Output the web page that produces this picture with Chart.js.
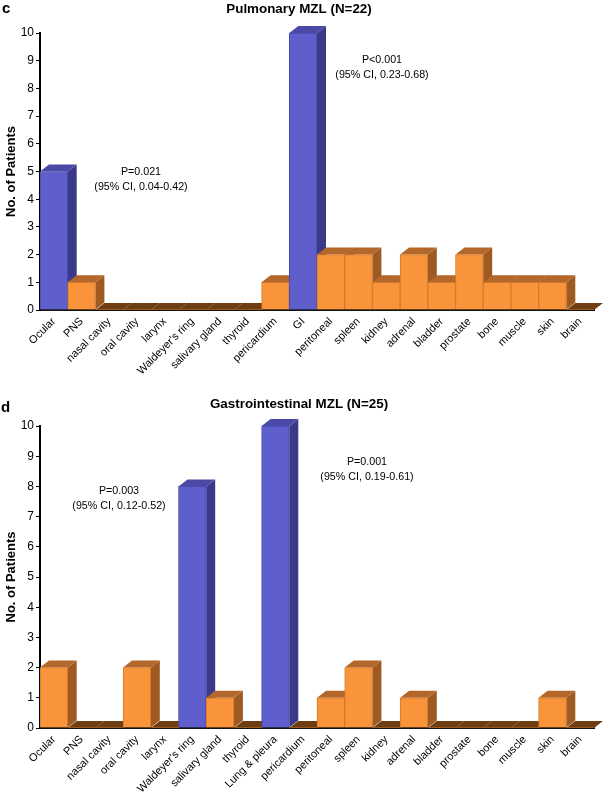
<!DOCTYPE html>
<html><head><meta charset="utf-8">
<style>
html,body{margin:0;padding:0;background:#fff;width:605px;height:796px;overflow:hidden}
canvas{position:absolute;left:0}
.t{position:absolute;font:10.7px "Liberation Sans",Arial,sans-serif;color:#000;text-align:center;line-height:15px;white-space:nowrap;transform:translateX(-50%)}
.p{position:absolute;font:bold 15px "Liberation Sans",Arial,sans-serif;color:#000;line-height:15px}
</style></head><body>
<canvas id="c1" width="605" height="395" style="top:0"></canvas>
<canvas id="c2" width="605" height="401" style="top:395px"></canvas>
<div class="p" style="left:2px;top:0">c</div>
<div class="p" style="left:1px;top:399px">d</div>
<div class="t" style="left:141px;top:164px">P=0.021<br>(95% CI, 0.04-0.42)</div>
<div class="t" style="left:382px;top:52px">P&lt;0.001<br>(95% CI, 0.23-0.68)</div>
<div class="t" style="left:119px;top:483px">P=0.003<br>(95% CI, 0.12-0.52)</div>
<div class="t" style="left:367px;top:454px">P=0.001<br>(95% CI, 0.19-0.61)</div>
<script src="https://cdn.jsdelivr.net/npm/chart.js@4"></script>
<script>
const categoriesC = ["Ocular","PNS","nasal cavity","oral cavity","larynx","Waldeyer's ring","salivary gland","thyroid","pericardium","GI","peritoneal","spleen","kidney","adrenal","bladder","prostate","bone","muscle","skin","brain"];
const valuesC = [5,1,0,0,0,0,0,0,1,10,2,2,1,2,1,2,1,1,1,0];
const highlightC = ["Ocular","GI"];
const categoriesD = ["Ocular","PNS","nasal cavity","oral cavity","larynx","Waldeyer's ring","salivary gland","thyroid","Lung & pleura","pericardium","peritoneal","spleen","kidney","adrenal","bladder","prostate","bone","muscle","skin","brain"];
const valuesD = [2,0,0,2,0,8,1,0,10,0,1,2,0,1,0,0,0,0,1,0];
const highlightD = ["Waldeyer's ring","Lung & pleura"];
const titleC = "Pulmonary MZL (N=22)";
const titleD = "Gastrointestinal MZL (N=25)";

const DX = 9, DY = 7;
const FONT = '"Liberation Sans",Arial,sans-serif';
const PAL = {
  o:{front:'#FA943A',edge:'#D27A2C',top:'#B4672A',side:'#9E5A20'},
  b:{front:'#5E5ECC',edge:'#4A4AB0',top:'#4A4AA6',side:'#3A3A88'}
};
const depth = {
  id:'depth',
  beforeDatasetsDraw(chart){
    const ctx = chart.ctx, meta = chart.getDatasetMeta(0), vals = chart.data.datasets[0].data;
    const hi = chart.data.datasets[0].hi;
    meta.data.forEach((el,i)=>{
      const p = hi.includes(chart.data.labels[i]) ? PAL.b : PAL.o;
      const l = el.x-el.width/2, r = el.x+el.width/2, t = el.y, b = el.base;
      if(vals[i]===0){
        ctx.fillStyle='#6E3D12';
        poly(ctx,[[l,b],[l+DX,b-DY],[r+DX,b-DY],[r,b]]);
        return;
      }
      ctx.fillStyle=p.side;
      poly(ctx,[[r,t],[r+DX,t-DY],[r+DX,b-DY],[r,b]]);
      ctx.fillStyle=p.top;
      poly(ctx,[[l,t],[l+DX,t-DY],[r+DX,t-DY],[r,t]]);
    });
  }
};
function poly(ctx,pts){
  ctx.beginPath();
  pts.forEach((q,i)=>i?ctx.lineTo(q[0],q[1]):ctx.moveTo(q[0],q[1]));
  ctx.closePath();ctx.fill();
}
function make(id,labels,values,hi,title,titleBottom,xH){
  const pick=(c,k)=>hi.includes(labels[c.dataIndex])?PAL.b[k]:PAL.o[k];
  new Chart(document.getElementById(id),{
    type:'bar',
    plugins:[depth],
    data:{labels,datasets:[{data:values,hi,
      categoryPercentage:1,barPercentage:1,
      backgroundColor:c=>pick(c,'front'),
      borderColor:c=>pick(c,'edge'),
      borderWidth:c=>values[c.dataIndex]===0?0:1,
      borderSkipped:'bottom'}]},
    options:{
      responsive:false,animation:false,
      layout:{padding:{left:4,right:11,top:0,bottom:0}},
      plugins:{
        legend:{display:false},tooltip:{enabled:false},
        title:{display:true,text:title,color:'#000',align:'center',
          font:{family:FONT,size:13.4,weight:'bold'},padding:{top:1.5,bottom:titleBottom}}
      },
      scales:{
        x:{z:1,
          afterFit(s){s.height=xH;},
          grid:{display:false,drawTicks:false},
          border:{color:'#111',width:2},
          ticks:{autoSkip:false,minRotation:45,maxRotation:45,padding:5,color:'#000',font:{family:FONT,size:11}}
        },
        y:{z:1,min:0,max:10,
          afterFit(s){s.width=36;},
          title:{display:true,text:'No. of Patients',color:'#000',padding:0,font:{family:FONT,size:13,weight:'bold'}},
          grid:{drawOnChartArea:false,tickLength:4,color:'#000',tickColor:'#000'},
          border:{color:'#000',width:2},
          ticks:{stepSize:1,padding:2,color:'#000',font:{family:FONT,size:12}}
        }
      }
    }
  });
}
make('c1',categoriesC,valuesC,highlightC,titleC,15.42,85);
make('c2',categoriesD,valuesD,highlightD,titleD,13.42,68);
</script>
</body></html>
